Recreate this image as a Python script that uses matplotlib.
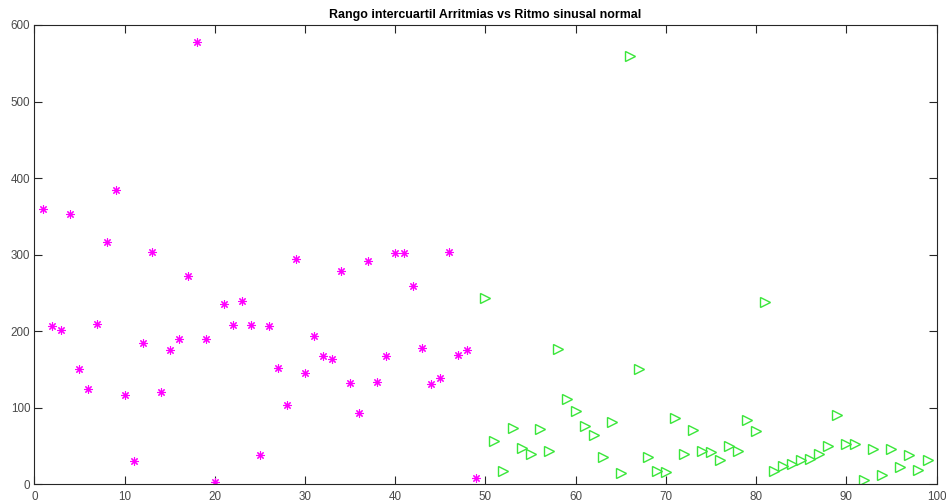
import matplotlib
matplotlib.use("Agg")
import matplotlib.pyplot as plt

# Arritmias (magenta asterisks), x = 1..49
arr_x = list(range(1, 50))
arr_y = [360, 207, 202, 353, 151, 124, 210, 316, 384, 117,
         30, 185, 303, 121, 175, 190, 272, 578, 190, 3,
         235, 208, 239, 208, 38, 207, 152, 104, 294, 145,
         194, 168, 164, 278, 132, 93, 292, 134, 167, 302,
         302, 259, 178, 131, 139, 303, 169, 176, 8]

# Ritmo sinusal normal (green triangles), x = 50..99
nsr_x = list(range(50, 100))
nsr_y = [244, 57, 17, 74, 47, 40, 72, 43, 177, 111,
         96, 76, 65, 35, 82, 15, 560, 151, 35, 17,
         16, 86, 40, 71, 44, 42, 32, 50, 43, 84,
         70, 238, 17, 24, 27, 32, 33, 40, 50, 90,
         52, 53, 6, 46, 12, 46, 23, 38, 19, 32]

title = "Rango intercuartil Arritmias vs Ritmo sinusal normal"
xticks = [0, 10, 20, 30, 40, 50, 60, 70, 80, 90, 100]
yticks = [0, 100, 200, 300, 400, 500, 600]

plt.rcParams['font.family'] = ['Liberation Sans', 'DejaVu Sans']

fig = plt.figure(figsize=(9.46, 5.03), dpi=100)
ax = fig.add_axes([0.0363, 0.0372, 0.9537, 0.9131])

ax.plot(arr_x, arr_y, linestyle='none', marker=(8, 2, 0), markersize=6,
        markeredgewidth=0.8, color='#ff00ff')
ax.plot(nsr_x, nsr_y, linestyle='none', marker='>', markersize=6.5,
        markerfacecolor='none', markeredgewidth=1.0, markeredgecolor='#3ae63a')

ax.set_xlim(0, 100)
ax.set_ylim(0, 600)
ax.set_xticks(xticks)
ax.set_yticks(yticks)
ax.tick_params(direction='in', top=True, right=True, length=6, width=0.8,
               colors='#262626', labelsize=8.4, labelcolor='#4a4a4a')
ax.tick_params(axis='x', pad=4.5)
ax.tick_params(axis='y', pad=3)
for s in ax.spines.values():
    s.set_color('#262626')
    s.set_linewidth(0.8)

ax.set_title(title, fontsize=8.9, fontweight='bold', color='black', pad=5)

fig.savefig("out.png", dpi=100)
